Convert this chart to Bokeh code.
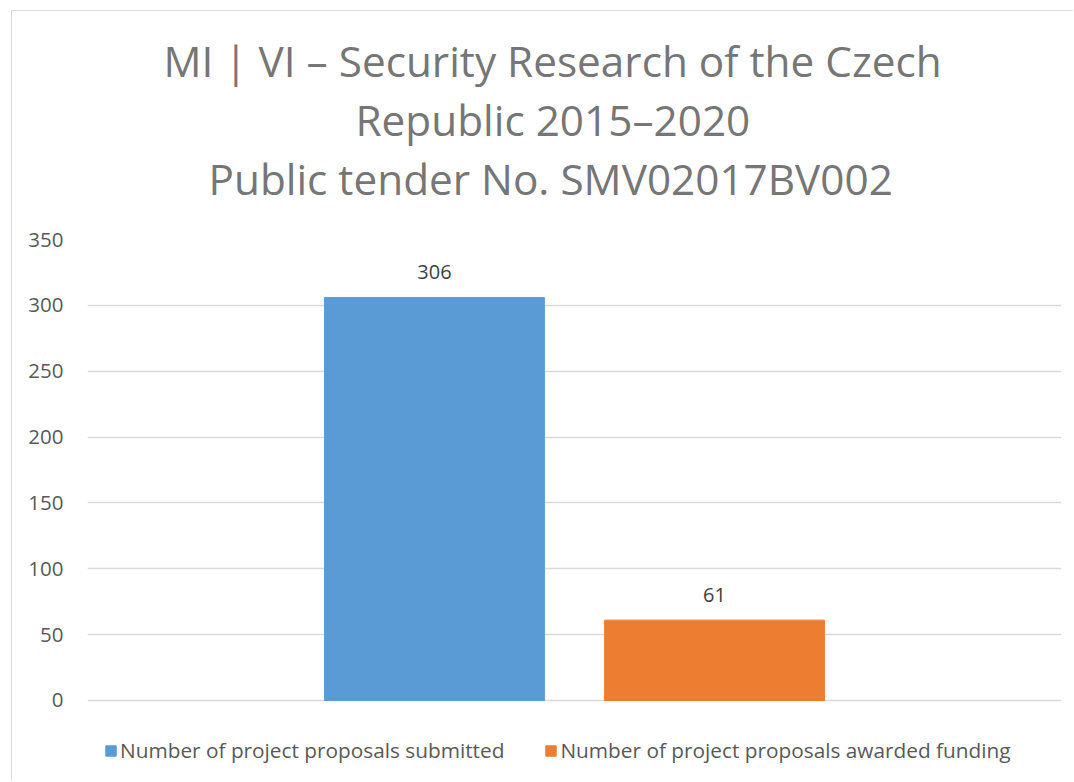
from bokeh.plotting import figure
from bokeh.models import FactorRange, Range1d, Title, Legend, LegendItem, ColumnDataSource
from bokeh.core.properties import value
from bokeh.embed import file_html
from bokeh.resources import INLINE

# ---- data ----
title_lines = ["MI | VI \u2013 Security Research of the Czech",
               "Republic 2015\u20132020",
               "Public tender No. SMV02017BV002"]
series_names = ["Number of project proposals submitted",
                "Number of project proposals awarded funding"]
series_values = [306, 61]
series_colors = ["#5B9BD5", "#ED7D31"]
y_ticks = [0, 50, 100, 150, 200, 250, 300, 350]

FONT = "Open Sans"
GRAY = "#595959"
TITLE_GRAY = "#767676"

src = ColumnDataSource(dict(name=series_names, val=series_values,
                            color=series_colors,
                            label=[str(v) for v in series_values]))

p = figure(width=1062, height=770, output_backend="svg", toolbar_location=None,
           x_range=FactorRange(factors=series_names, range_padding=0.739,
                               range_padding_units="percent"),
           y_range=Range1d(-61.5, 350),
           min_border_left=75, min_border_right=13, min_border_top=228,
           min_border_bottom=0)
p.styles = {"margin-left": "11px", "margin-top": "10px",
            "border-left": "1px solid #d9d9d9", "border-top": "1px solid #d9d9d9"}

# spacer between the title block and the plot area
p.add_layout(Title(text=" ", text_font=FONT, text_font_size="22.8px", standoff=0), "above")
title_offsets = [76, 268, 121]   # left edge of each title line, px from plot-area left
for t, off in reversed(list(zip(title_lines, title_offsets))):
    p.add_layout(Title(text=t, align="left", offset=off, text_font=FONT,
                       text_font_size="42.3px", text_color=TITLE_GRAY,
                       text_font_style="normal", standoff=0), "above")

r = p.vbar(x="name", top="val", width=0.785, color="color", source=src)
p.text(x="name", y="val", text="label", source=src, text_align="center",
       text_baseline="alphabetic", y_offset=-25, text_font=value(FONT),
       text_font_size="20px", text_color="#404040")

p.xaxis.visible = False
p.xgrid.visible = False
p.ygrid.grid_line_color = "#d9d9d9"
p.ygrid.grid_line_width = 1.5
p.yaxis.ticker = y_ticks
p.yaxis.axis_line_color = None
p.yaxis.major_tick_line_color = None
p.yaxis.minor_tick_line_color = None
p.yaxis.major_tick_out = 0
p.yaxis.major_tick_in = 0
p.yaxis.major_label_text_font = FONT
p.yaxis.major_label_text_font_size = "20.5px"
p.yaxis.major_label_text_color = GRAY
p.yaxis.major_label_standoff = 24
p.outline_line_color = None

legend = Legend(items=[LegendItem(label=series_names[i], renderers=[r], index=i) for i in range(2)],
                orientation="horizontal", location=(17, 17),
                label_text_font=FONT, label_text_font_size="20.8px", label_text_color=GRAY,
                glyph_width=13, glyph_height=13, label_standoff=3, spacing=40,
                border_line_color=None, background_fill_alpha=0, margin=0, padding=0)
p.add_layout(legend)

open("out.html", "w").write(file_html(p, INLINE))
